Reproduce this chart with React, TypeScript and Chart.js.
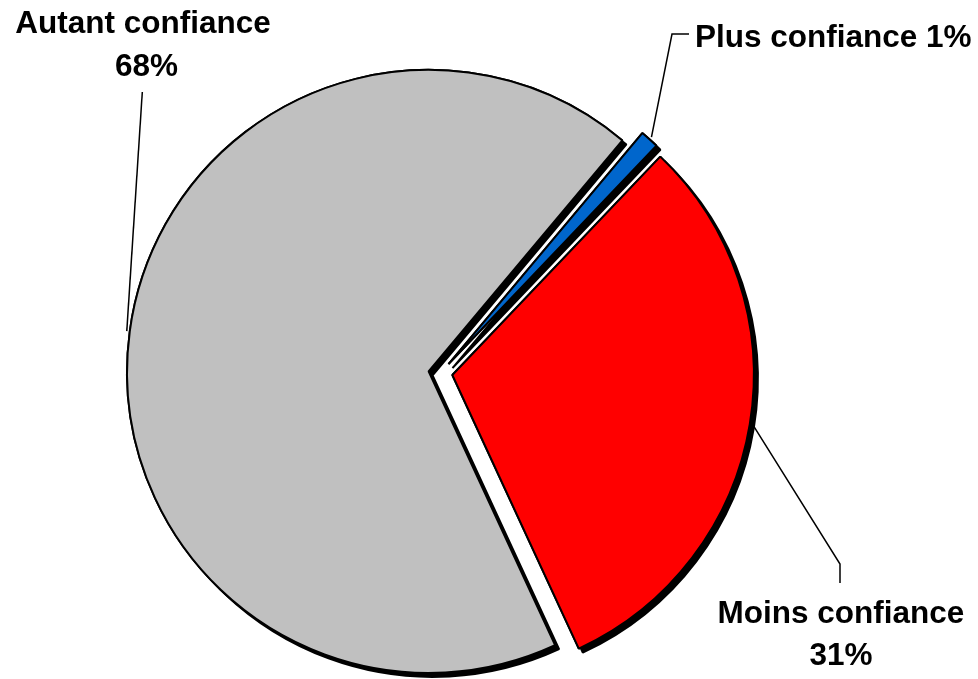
import React, { useEffect, useRef } from 'react';
import { Chart, registerables } from 'chart.js';

Chart.register(...registerables);

// ---- Data ----
const categories = ['Plus confiance', 'Moins confiance', 'Autant confiance'];
const values = [1, 31, 68];
const percentLabels = ['1%', '31%', '68%'];
const colors = ['#0066CC', '#FF0000', '#C0C0C0'];

// ---- Styling constants ----
const EXPLODE = 12;
const SHADOW = 4;
const FONT = 'bold 31.5px "Liberation Sans", Arial, Helvetica, sans-serif';

type LabelSpec = {
  lines: string[];
  xs: number[];
  ys: number[];
  align: CanvasTextAlign;
  path: number[][];
};

const labelLayout = (i: number): LabelSpec => {
  const cat = categories[i];
  const pct = percentLabels[i];
  if (i === 0) {
    return { lines: [`${cat} ${pct}`], xs: [695], ys: [46.5], align: 'left', path: [[689, 34], [672, 34]] };
  }
  if (i === 1) {
    return { lines: [cat, pct], xs: [841, 841], ys: [623, 665], align: 'center', path: [[840, 583], [840, 564]] };
  }
  return { lines: [cat, pct], xs: [143, 146.5], ys: [33.3, 76], align: 'center', path: [[142.3, 92]] };
};

const explodedShadowPie = {
  id: 'explodedShadowPie',
  beforeDatasetDraw(chart: any, args: any) {
    const ctx: CanvasRenderingContext2D = chart.ctx;
    const arcs = args.meta.data;
    const drawAll = (shadow: boolean) => {
      arcs.forEach((arc: any) => {
        const mid = (arc.startAngle + arc.endAngle) / 2;
        ctx.save();
        if (shadow) {
          ctx.shadowColor = '#000000';
          ctx.shadowOffsetX = SHADOW;
          ctx.shadowOffsetY = SHADOW;
          ctx.shadowBlur = 0;
        }
        ctx.translate(Math.cos(mid) * EXPLODE, Math.sin(mid) * EXPLODE);
        arc.draw(ctx);
        ctx.restore();
      });
    };
    drawAll(true);
    drawAll(false);
    return false;
  },
  afterDatasetsDraw(chart: any) {
    const ctx: CanvasRenderingContext2D = chart.ctx;
    const meta = chart.getDatasetMeta(0);
    meta.data.forEach((arc: any, i: number) => {
      const mid = (arc.startAngle + arc.endAngle) / 2;
      const rr = arc.outerRadius + EXPLODE + 3;
      const ax = arc.x + Math.cos(mid) * rr;
      const ay = arc.y + Math.sin(mid) * rr;
      const spec = labelLayout(i);
      ctx.save();
      ctx.strokeStyle = '#000';
      ctx.lineWidth = 1.5;
      ctx.beginPath();
      ctx.moveTo(spec.path[0][0], spec.path[0][1]);
      for (let k = 1; k < spec.path.length; k++) ctx.lineTo(spec.path[k][0], spec.path[k][1]);
      ctx.lineTo(ax, ay);
      ctx.stroke();
      ctx.fillStyle = '#000';
      ctx.font = FONT;
      ctx.textAlign = spec.align;
      ctx.textBaseline = 'alphabetic';
      spec.lines.forEach((t, k) => ctx.fillText(t, spec.xs[k], spec.ys[k]));
      ctx.restore();
    });
  },
};

export default function App() {
  const ref = useRef<HTMLCanvasElement | null>(null);
  useEffect(() => {
    document.body.style.margin = '0';
    if (!ref.current) return;
    const chart = new Chart(ref.current, {
      type: 'pie',
      data: {
        labels: categories,
        datasets: [
          {
            data: values,
            backgroundColor: colors,
            borderColor: '#000000',
            borderWidth: 2,
          },
        ],
      },
      options: {
        animation: false,
        responsive: false,
        devicePixelRatio: 1,
        rotation: 40,
        radius: 301.5,
        layout: { padding: { left: 0, right: 97, top: 67, bottom: 0 } },
        plugins: {
          legend: { display: false },
          tooltip: { enabled: false },
        },
        events: [],
      },
      plugins: [explodedShadowPie],
    });
    return () => chart.destroy();
  }, []);
  return (
    <div style={{ width: 978, height: 679, background: '#fff' }}>
      <canvas ref={ref} width={978} height={679} style={{ display: 'block' }} />
    </div>
  );
}
